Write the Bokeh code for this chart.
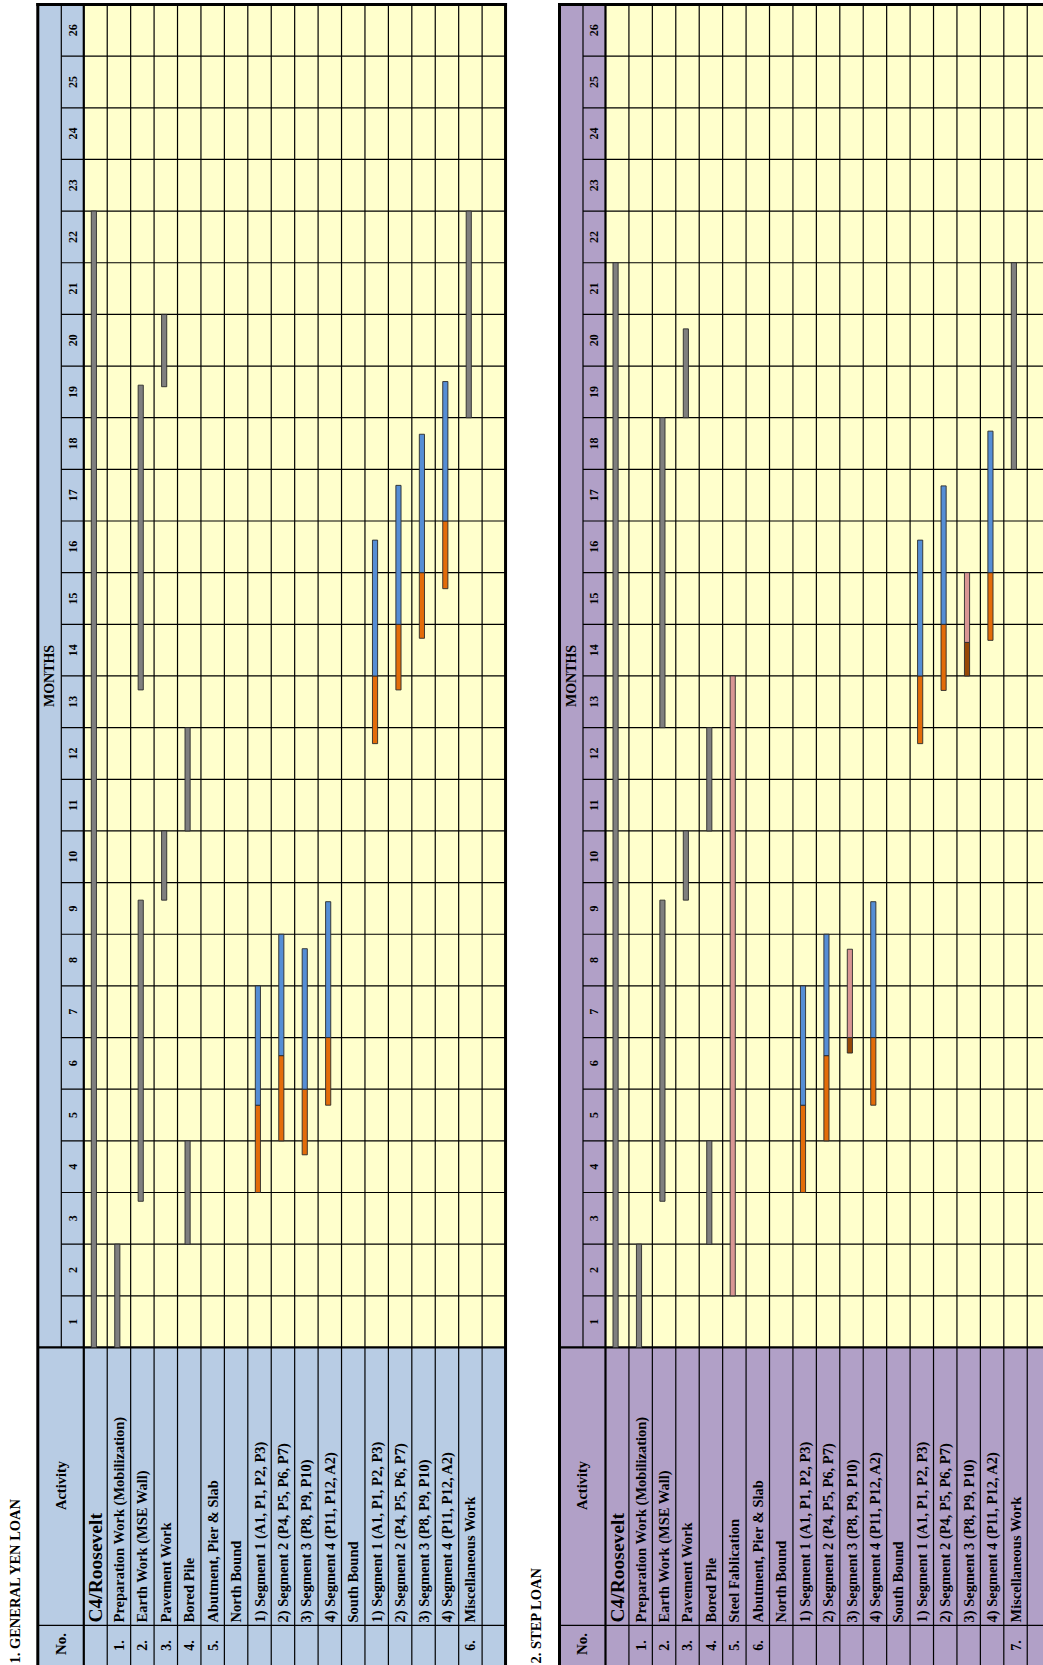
import math
from bokeh.plotting import figure
from bokeh.models import Range1d
from bokeh.core.properties import value
from bokeh.embed import file_html
from bokeh.resources import INLINE

# ---------------- data ----------------
months = list(range(1, 27))

yen_title = "1. GENERAL YEN LOAN"
yen_activities = ["C4/Roosevelt", "Preparation Work (Mobilization)", "Earth Work (MSE Wall)",
                  "Pavement Work", "Bored Pile", "Abutment, Pier & Slab", "North Bound",
                  "1) Segment 1 (A1, P1, P2, P3)", "2) Segment 2 (P4, P5, P6, P7)",
                  "3) Segment 3 (P8, P9, P10)", "4) Segment 4 (P11, P12, A2)", "South Bound",
                  "1) Segment 1 (A1, P1, P2, P3)", "2) Segment 2 (P4, P5, P6, P7)",
                  "3) Segment 3 (P8, P9, P10)", "4) Segment 4 (P11, P12, A2)",
                  "Miscellaneous Work", ""]
yen_numbers = ["", "1.", "2.", "3.", "4.", "5.", "", "", "", "", "", "", "", "", "", "", "6.", ""]
yen_bar_row = [0, 1, 2, 2, 3, 3, 4, 4, 7, 7, 8, 8, 9, 9, 10, 10, 12, 12, 13, 13, 14, 14, 15, 15, 16]
yen_bar_start = [0, 0, 2.83, 12.73, 8.66, 18.6, 2, 10, 3, 4.69, 4, 5.65, 3.73, 5.0, 4.69, 6,
                 11.69, 13, 12.73, 14, 13.73, 15, 14.69, 16, 18]
yen_bar_end = [22, 2, 8.66, 18.63, 10, 20, 4, 12, 4.69, 7, 5.65, 8, 5.0, 7.72, 6, 8.63,
               13, 15.63, 14, 16.69, 15, 17.68, 16, 18.7, 22]
yen_bar_kind = ["plan", "plan", "plan", "plan", "plan", "plan", "plan", "plan",
                "prep", "work", "prep", "work", "prep", "work", "prep", "work",
                "prep", "work", "prep", "work", "prep", "work", "prep", "work", "plan"]

step_title = "2. STEP LOAN"
step_activities = ["C4/Roosevelt", "Preparation Work (Mobilization)", "Earth Work (MSE Wall)",
                   "Pavement Work", "Bored Pile", "Steel Fablication", "Abutment, Pier & Slab",
                   "North Bound", "1) Segment 1 (A1, P1, P2, P3)", "2) Segment 2 (P4, P5, P6, P7)",
                   "3) Segment 3 (P8, P9, P10)", "4) Segment 4 (P11, P12, A2)", "South Bound",
                   "1) Segment 1 (A1, P1, P2, P3)", "2) Segment 2 (P4, P5, P6, P7)",
                   "3) Segment 3 (P8, P9, P10)", "4) Segment 4 (P11, P12, A2)",
                   "Miscellaneous Work", ""]
step_numbers = ["", "1.", "2.", "3.", "4.", "5.", "6.", "", "", "", "", "", "", "", "", "", "", "7.", ""]
step_bar_row = [0, 1, 2, 2, 3, 3, 4, 4, 5, 8, 8, 9, 9, 10, 10, 11, 11, 13, 13, 14, 14, 15, 15, 16, 16, 17]
step_bar_start = [0, 0, 2.83, 12, 8.66, 18, 2, 10, 1, 3, 4.69, 4, 5.65, 5.7, 6, 4.69, 6,
                  11.69, 13, 12.72, 14, 13, 13.65, 13.69, 15, 17]
step_bar_end = [21, 2, 8.66, 18, 10, 19.72, 4, 12, 13, 4.69, 7, 5.65, 8, 6, 7.71, 6, 8.63,
                13, 15.63, 14, 16.68, 13.65, 15, 15, 17.74, 21]
step_bar_kind = ["plan", "plan", "plan", "plan", "plan", "plan", "plan", "plan", "steel",
                 "prep", "work", "prep", "work", "steelprep", "steel", "prep", "work",
                 "prep", "work", "prep", "work", "steelprep", "steel", "prep", "work", "plan"]

# ---------------- styles ----------------
FONT = value("Liberation Serif")
YELLOW = "#FFFFCC"
KIND_COLORS = {"plan": "#7F7F7F", "prep": "#E36C09", "work": "#558ED5",
               "steel": "#D99694", "steelprep": "#974806"}

p = figure(width=1043, height=1665, x_range=Range1d(-3.555, 40.96),
           y_range=Range1d(-6.157, 26.077), output_backend="svg", toolbar_location=None,
           x_axis_location=None, y_axis_location=None, min_border=0,
           outline_line_color=None, background_fill_color="white",
           border_fill_color="white")
p.xgrid.visible = False
p.ygrid.visible = False

Y_LBL = -5.382
Y_BOT = -6.4
HL = -1.963   # left border of header column (row units)
HM = -0.96    # border between MONTHS and month numbers


def panel(x0, title, header_color, acts, nums, b_row, b_start, b_end, b_kind):
    n = len(acts)
    xr = x0 + n
    # fills
    p.quad(left=[x0], right=[xr], bottom=[0], top=[26], fill_color=YELLOW, line_color=None)
    p.quad(left=[x0 + HL], right=[x0], bottom=[0], top=[26], fill_color=header_color, line_color=None)
    p.quad(left=[x0 + HL], right=[xr], bottom=[Y_BOT], top=[0], fill_color=header_color, line_color=None)
    # thin lines
    hx0, hx1, hy0, hy1 = [], [], [], []
    for m in months[:-1]:
        hx0.append(x0 + HM); hx1.append(xr); hy0.append(m); hy1.append(m)
    hx0.append(x0 + HL); hx1.append(xr); hy0.append(Y_LBL); hy1.append(Y_LBL)
    for i in range(1, n):
        hx0.append(x0 + i); hx1.append(x0 + i); hy0.append(Y_BOT); hy1.append(26)
    hx0.append(x0 + HM); hx1.append(x0 + HM); hy0.append(0); hy1.append(26)
    p.segment(x0=hx0, y0=hy0, x1=hx1, y1=hy1, line_color="black", line_width=1.2)
    # thick lines
    p.segment(x0=[x0, x0 + HL], y0=[Y_BOT, 0], x1=[x0, xr], y1=[26, 0],
              line_color="black", line_width=2.2)
    p.segment(x0=[x0 + HL, x0 + HL, xr], y0=[26, Y_BOT, Y_BOT], x1=[xr, x0 + HL, xr], y1=[26, 26, 26],
              line_color="black", line_width=3, line_cap="square")
    # bars
    bw = 0.22
    off = -0.07
    p.quad(left=[x0 + r + 0.5 + off - bw / 2 for r in b_row],
           right=[x0 + r + 0.5 + off + bw / 2 for r in b_row],
           bottom=b_start, top=b_end,
           fill_color=[KIND_COLORS[k] for k in b_kind],
           line_color="#2a2a2a", line_width=0.9)
    # texts
    rot = math.pi / 2
    p.text(x=[x0 - 2.95], y=[-6.12], text=[title], angle=rot, text_align="left",
           text_baseline="middle", text_font=FONT, text_font_style="bold",
           text_font_size="14.5px", text_color="black")
    p.text(x=[x0 + (HL + HM) / 2], y=[13], text=["MONTHS"], angle=rot, text_align="center",
           text_baseline="middle", text_font=FONT, text_font_style="bold",
           text_font_size="14px", text_color="black")
    p.text(x=[x0 + HM / 2] * len(months), y=[m - 0.5 for m in months],
           text=[str(m) for m in months], angle=rot, text_align="center",
           text_baseline="middle", text_font=FONT, text_font_style="bold",
           text_font_size="12px", text_color="black")
    p.text(x=[x0 + HL / 2], y=[-2.672], text=["Activity"], angle=rot, text_align="center",
           text_baseline="middle", text_font=FONT, text_font_style="bold",
           text_font_size="14.5px", text_color="black")
    p.text(x=[x0 + HL / 2], y=[-5.74], text=["No."], angle=rot, text_align="center",
           text_baseline="middle", text_font=FONT, text_font_style="bold",
           text_font_size="15px", text_color="black")
    p.text(x=[x0 + 0.5], y=[-5.324], text=[acts[0]], angle=rot, text_align="left",
           text_baseline="middle", text_font=FONT, text_font_style="bold",
           text_font_size="19.5px", text_color="black")
    p.text(x=[x0 + i + 0.5 for i in range(1, n)], y=[-5.324] * (n - 1), text=acts[1:],
           angle=rot, text_align="left", text_baseline="middle", text_font=FONT,
           text_font_style="bold", text_font_size="14.5px", text_color="black")
    p.text(x=[x0 + i + 0.5 for i in range(n)], y=[-5.77] * n, text=nums, angle=rot,
           text_align="center", text_baseline="middle", text_font=FONT,
           text_font_style="bold", text_font_size="14px", text_color="black")


panel(0.0, yen_title, "#B8CCE4", yen_activities, yen_numbers,
      yen_bar_row, yen_bar_start, yen_bar_end, yen_bar_kind)
panel(22.266, step_title, "#B1A0C7", step_activities, step_numbers,
      step_bar_row, step_bar_start, step_bar_end, step_bar_kind)

open("out.html", "w").write(file_html(p, INLINE))
